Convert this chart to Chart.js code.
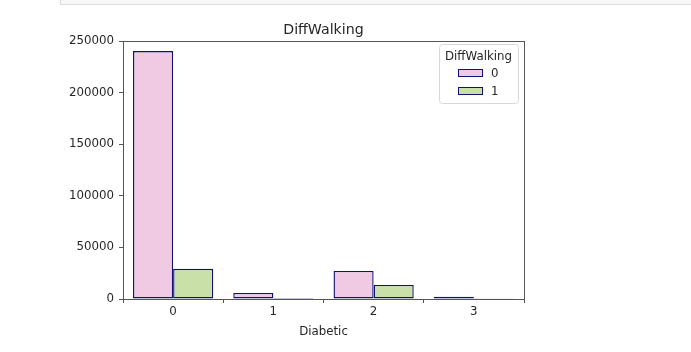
<!DOCTYPE html>
<html>
<head>
<meta charset="utf-8">
<script src="https://cdn.jsdelivr.net/npm/chart.js@4"></script>
<style>
  body { margin: 0; background: #fff; }
  #top { position: absolute; left: 60px; top: 0; width: 631px; height: 4px; background: #f7f7f7; border-bottom: 1px solid #dcdcdc; border-left: 1px solid #dcdcdc; }
  #wrap { position: absolute; left: 0; top: 0; width: 691px; height: 352px; }
</style>
</head>
<body>
<div id="top"></div>
<div id="wrap"><canvas id="grafico" width="691" height="352"></canvas></div>
<script>
const categorias = ['0', '1', '2', '3'];
const semDificuldade = [240300, 5900, 27200, 2300];
const comDificuldade = [29200, 1000, 13600, 250];
const yTicks = [0, 50000, 100000, 150000, 200000, 250000];

const fonte = 'DejaVu Sans';
const rosa = '#f0c9e2';
const verde = '#c9e0a9';
const borda = '#10107a';
const texto = '#262626';

// moldura do eixo, titulo e legenda ao estilo matplotlib
const extras = {
  id: 'extras',
  afterDraw(chart) {
    const { ctx, chartArea: a } = chart;
    ctx.save();
    ctx.strokeStyle = '#555';
    ctx.lineWidth = 1;
    ctx.strokeRect(Math.round(a.left) + 0.5, Math.round(a.top) + 0.5, Math.round(a.right - a.left), Math.round(a.bottom - a.top));

    ctx.fillStyle = texto;
    ctx.font = '14.2px ' + fonte;
    ctx.textAlign = 'center';
    ctx.textBaseline = 'alphabetic';
    ctx.fillText('DiffWalking', (a.left + a.right) / 2, 34);

    // legenda
    const lx = 439, ly = 44, lw = 79, lh = 59;
    ctx.fillStyle = 'rgba(255,255,255,0.85)';
    ctx.strokeStyle = '#d8d8d8';
    ctx.beginPath();
    ctx.roundRect(lx + 0.5, ly + 0.5, lw, lh, 3);
    ctx.fill();
    ctx.stroke();
    ctx.fillStyle = texto;
    ctx.font = '11.8px ' + fonte;
    ctx.fillText('DiffWalking', lx + lw / 2, ly + 16);
    const itens = [['0', rosa], ['1', verde]];
    itens.forEach((it, i) => {
      const y = ly + 25 + i * 18;
      ctx.fillStyle = it[1];
      ctx.fillRect(lx + 19, y, 24, 7);
      ctx.strokeStyle = borda;
      ctx.strokeRect(lx + 19.5, y + 0.5, 24, 7);
      ctx.fillStyle = texto;
      ctx.textAlign = 'left';
      ctx.fillText(it[0], lx + 52, y + 8);
    });
    ctx.restore();
  }
};

new Chart(document.getElementById('grafico'), {
  type: 'bar',
  data: {
    labels: categorias,
    datasets: [
      { label: '0', data: semDificuldade, backgroundColor: rosa, borderColor: borda, borderWidth: 1.4, borderSkipped: false },
      { label: '1', data: comDificuldade, backgroundColor: verde, borderColor: borda, borderWidth: 1.4, borderSkipped: false }
    ]
  },
  options: {
    responsive: false,
    animation: false,
    layout: { padding: { top: 41, right: 167, left: 0, bottom: 13 } },
    datasets: { bar: { categoryPercentage: 0.8, barPercentage: 1.0 } },
    plugins: { legend: { display: false }, title: { display: false }, tooltip: { enabled: false } },
    scales: {
      x: {
        grid: { display: true, drawOnChartArea: false, drawTicks: true, tickLength: 4, color: '#555' },
        border: { display: true, color: '#555' },
        ticks: { color: texto, font: { family: fonte, size: 11.8 }, padding: 2, maxRotation: 0 },
        title: { display: true, text: 'Diabetic', color: texto, font: { family: fonte, size: 11.8 }, padding: { top: 2, bottom: 0 } },
        afterFit(s) { s.height = 40; }
      },
      y: {
        min: 0,
        max: 250000,
        afterBuildTicks(s) { s.ticks = yTicks.map(v => ({ value: v })); },
        grid: { display: true, drawOnChartArea: false, drawTicks: true, tickLength: 4, color: '#555' },
        border: { display: true, color: '#555' },
        ticks: { color: texto, font: { family: fonte, size: 11.8 }, padding: 5, callback: v => String(v) },
        afterFit(s) { s.width = 123; }
      }
    }
  },
  plugins: [extras]
});
</script>
</body>
</html>
